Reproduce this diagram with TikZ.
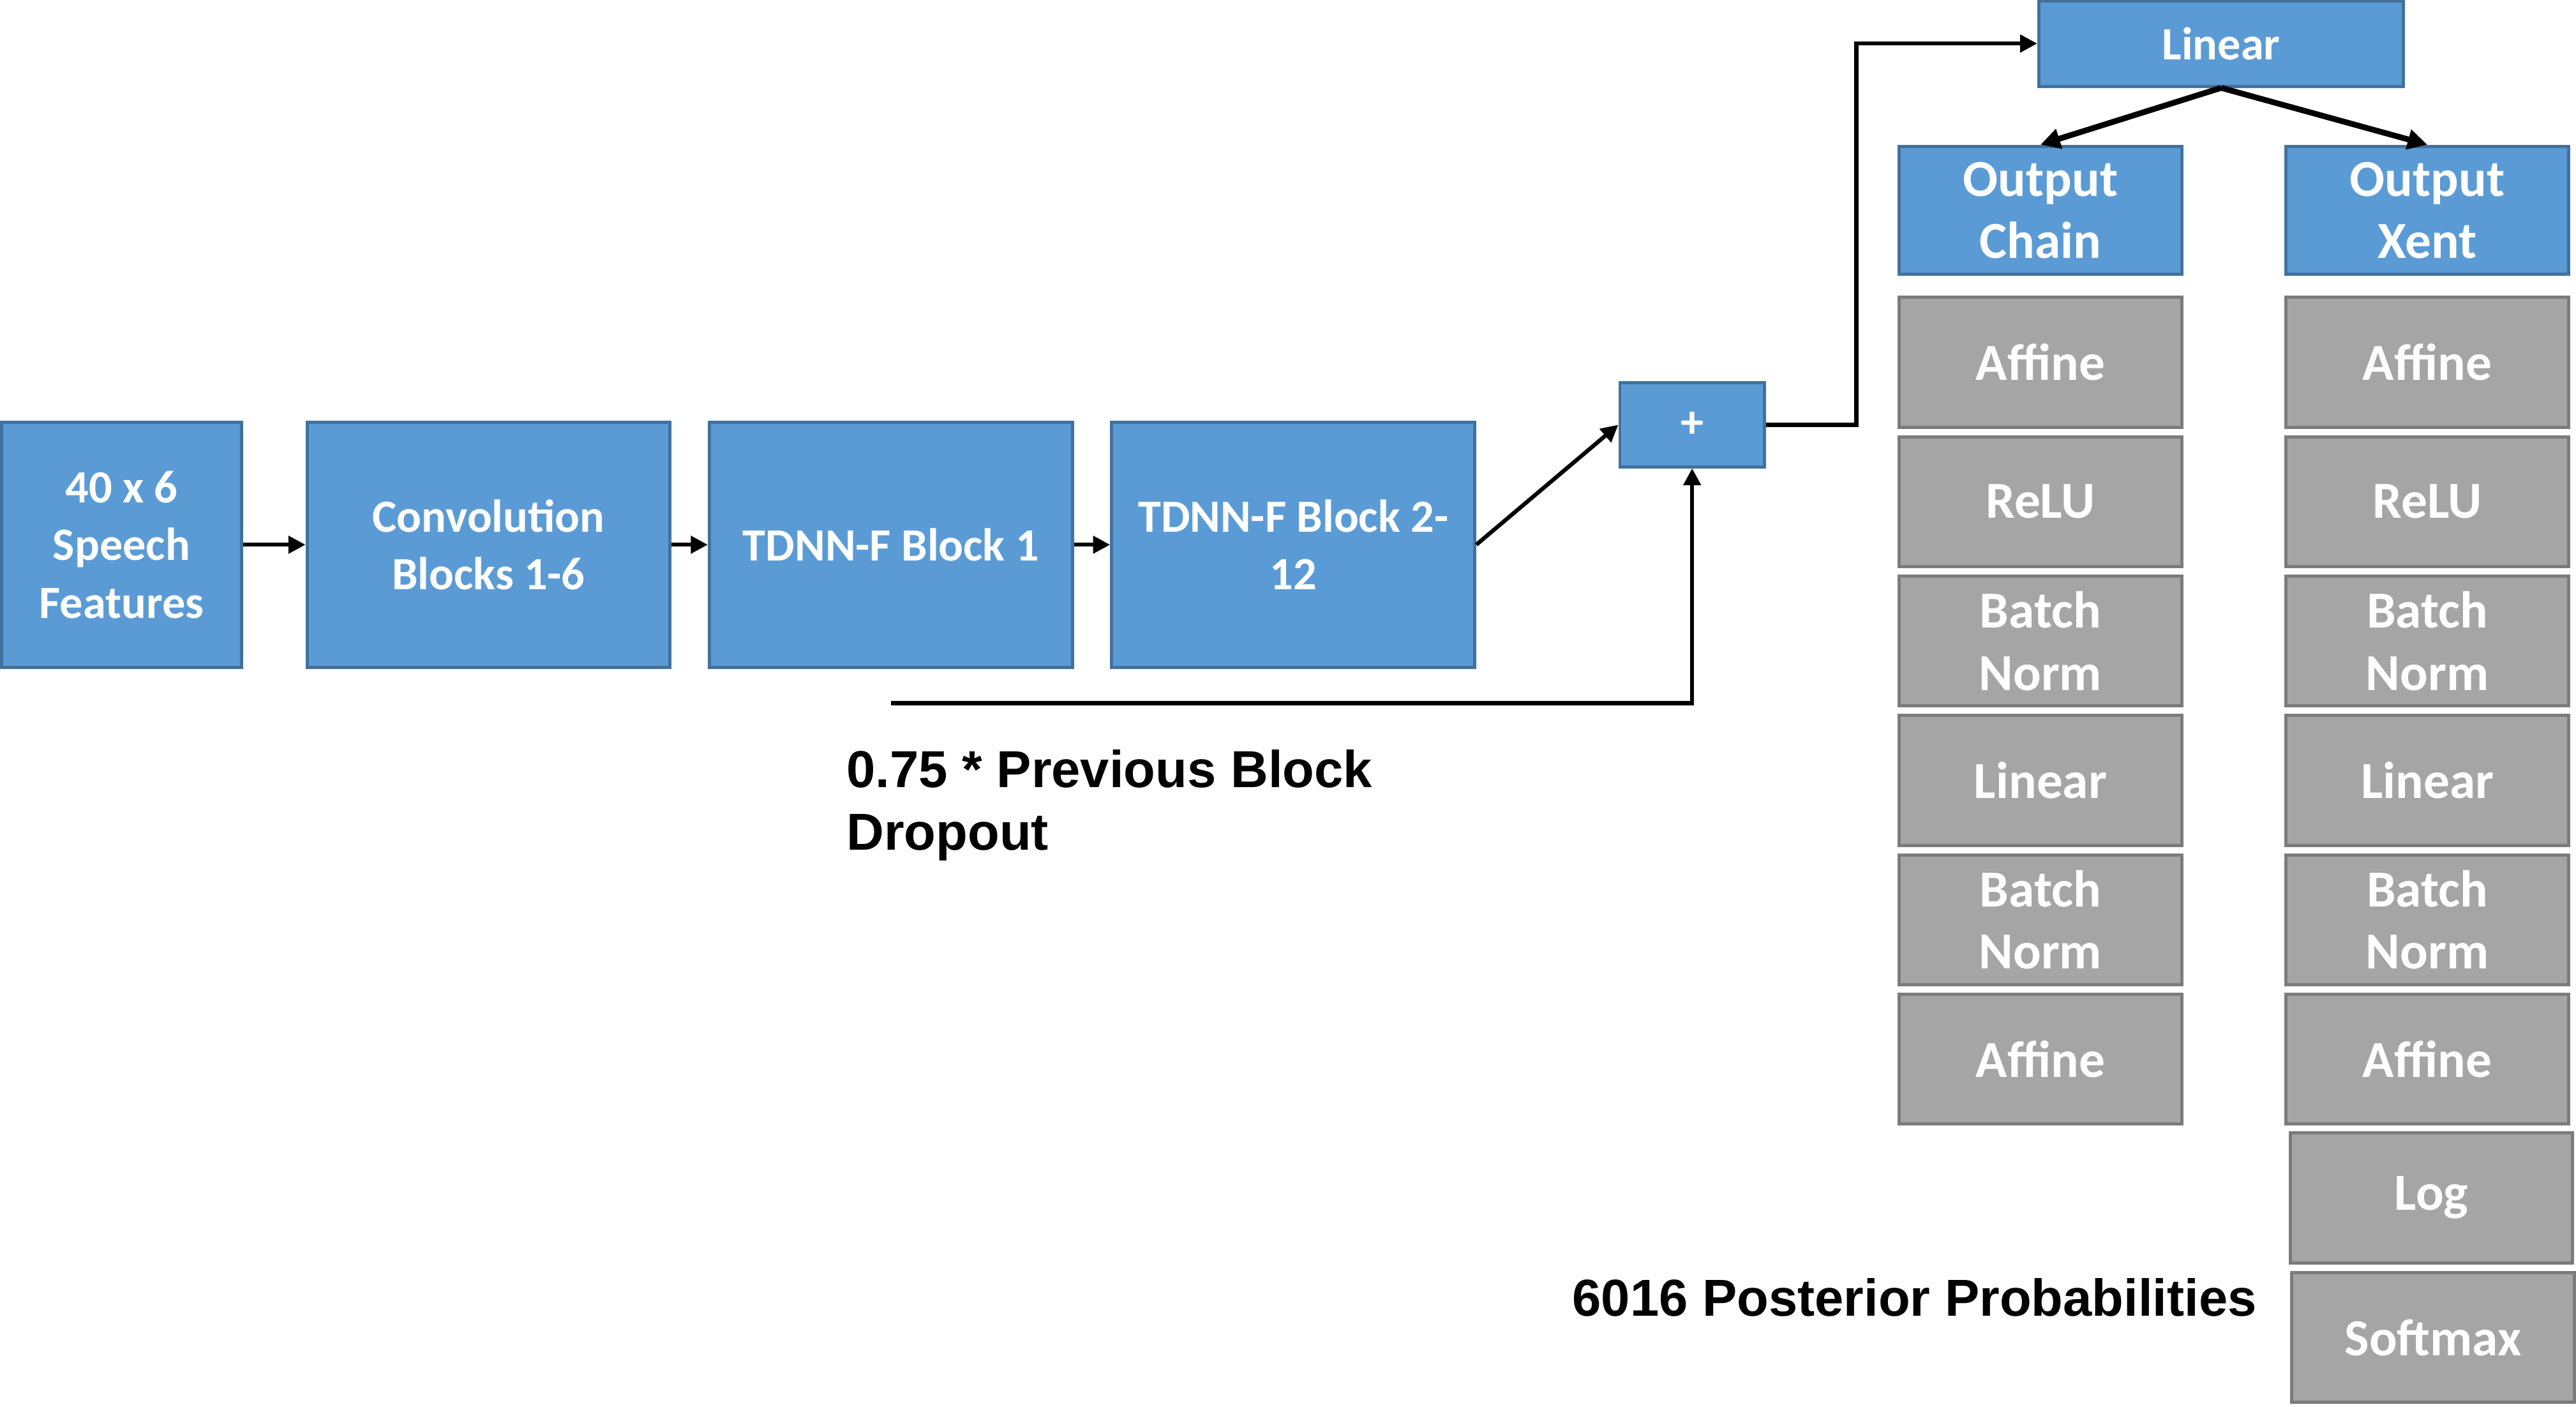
\documentclass[tikz,border=0pt]{standalone}
\usepackage{fontspec}
\usepackage{tikz}
\usetikzlibrary{arrows.meta,positioning,calc}
\newfontfamily\boxfont{Carlito}
\newfontfamily\notefont{Liberation Sans}
\definecolor{blkfill}{HTML}{5B9BD5}
\definecolor{blkedge}{HTML}{41719C}
\definecolor{layfill}{HTML}{A5A5A5}
\definecolor{layedge}{HTML}{7B7B7B}
\tikzset{
  >={Triangle[length=5.9pt,width=5.9pt]},
  blk/.style    = {draw=blkedge, fill=blkfill, line width=1.1pt, text=white, align=center, inner sep=2pt,
                   font=\boxfont\bfseries\fontsize{16}{20}\selectfont},
  outblk/.style = {blk, minimum width=3.44cm, minimum height=1.56cm, font=\boxfont\bfseries\fontsize{18}{21.6}\selectfont},
  layer/.style  = {draw=layedge, fill=layfill, line width=1.1pt, text=white, align=center, inner sep=2pt,
                   minimum width=3.44cm, minimum height=1.58cm, font=\boxfont\bfseries\fontsize{18}{21.6}\selectfont},
  flow/.style   = {->, line width=1.4pt},
  fork/.style   = {-{Triangle[length=6.8pt,width=6.8pt]}, line width=2pt},
  note/.style   = {inner sep=0pt, align=left, font=\notefont\bfseries\fontsize{18}{21.6}\selectfont}
}

\begin{document}
\begin{tikzpicture}[x=0.02cm, y=-0.02cm]  % y grows downwards, units follow the layout grid
  \useasboundingbox (0,0) rectangle (1568,856);

  %  --  Main row: features, convolution and TDNN-F blocks
  \node[blk, minimum width=2.92cm, minimum height=2.98cm] (feat) at (74,331.5) {40 x 6\\Speech\\Features};
  \node[blk, minimum width=4.42cm, minimum height=2.98cm, right=0.76cm of feat] (conv) {Convolution\\Blocks 1-6};
  \node[blk, minimum width=4.42cm, minimum height=2.98cm, right=0.44cm of conv] (tdnn1) {TDNN-F Block 1};
  \node[blk, minimum width=4.42cm, minimum height=2.98cm, right=0.44cm of tdnn1] (tdnn2) {TDNN-F Block 2-\\12};
  \draw[flow] (feat) -- (conv);
  \draw[flow] (conv) -- (tdnn1);
  \draw[flow] (tdnn1) -- (tdnn2);

  %  --  Residual sum with scaled skip from the previous block
  \node[blk, minimum width=1.76cm, minimum height=1.02cm] (plus) at (1030,258.5) {+};
  \coordinate (skip) at ($(tdnn1.south)+(0,21)$);
  \draw[flow] (tdnn2.east) -- (plus.west);
  \draw[flow] (skip) -| (plus.south);
  \node[note, anchor=north west] (dropnote) at (515,456) {0.75 * Previous Block\\Dropout};

  %  --  Shared linear layer feeding the two output heads
  \node[blk, minimum width=4.44cm, minimum height=1.04cm] (linear) at (1352,26.5) {Linear};
  \draw[flow] (plus.east) -- ++(55,0) |- (linear.west);
  \node[outblk] (outchain) at (1242,128) {Output\\Chain};
  \node[outblk] (outxent) at (1477.5,128) {Output\\Xent};
  \draw[fork] (linear.south) -- (outchain.north);
  \draw[fork] (linear.south) -- (outxent.north);

  %  --  Layer stacks of both heads
  \foreach \lay [count=\i] in {Affine, ReLU, Batch\\Norm, Linear, Batch\\Norm, Affine}{
    \node[layer] (chain\i) at (1242,{220.5+84.8*(\i-1)}) {\lay};
    \node[layer] (xent\i) at (1477.5,{220.5+84.8*(\i-1)}) {\lay};
  }
  \node[layer] (xentlog) at (1480,729) {Log};
  \node[layer] (xentsoft) at (1481,814) {Softmax};
  \node[note, anchor=base east] (postnote) at (1374,801) {6016 Posterior Probabilities};
\end{tikzpicture}
\end{document}
